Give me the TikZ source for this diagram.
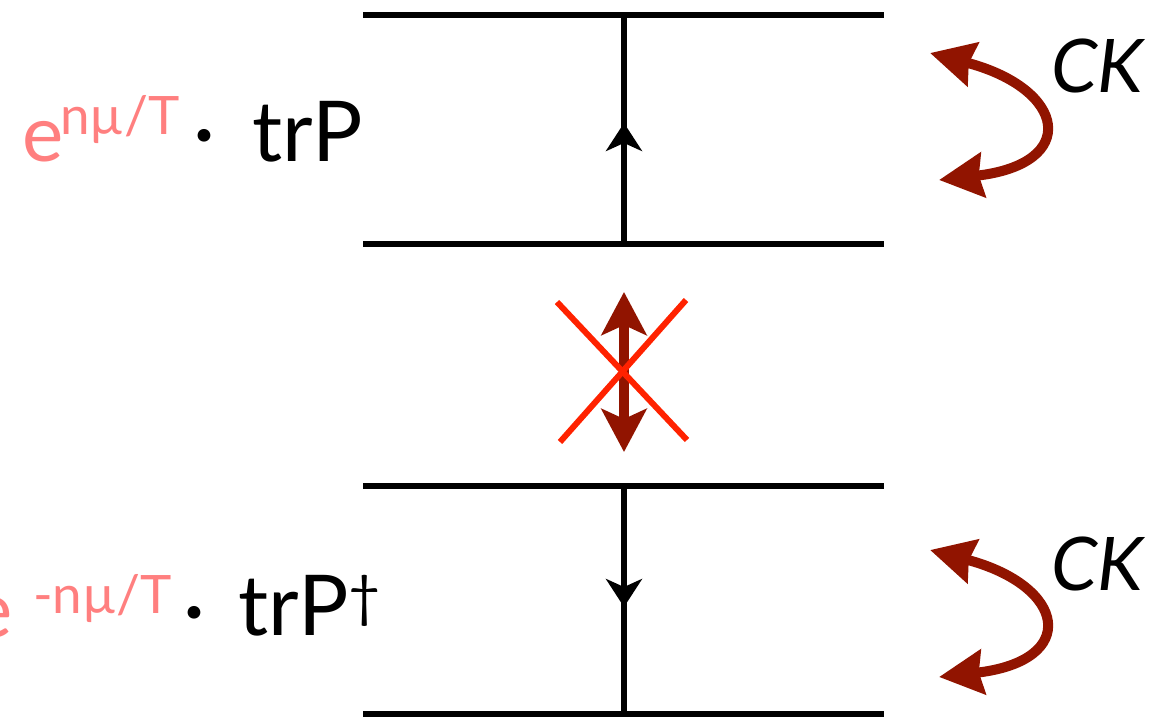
\documentclass[tikz,border=0pt]{standalone}
\usepackage{fontspec}
\setmainfont{Lato}
\usetikzlibrary{arrows.meta}
\definecolor{pinkt}{HTML}{FF7F7F}
\definecolor{darkr}{HTML}{911400}
\definecolor{redx}{HTML}{FF2200}
\begin{document}
\begin{tikzpicture}[x=1pt,y=-1pt,
  rail/.style={line width=6.5pt,black},
  txt/.style={inner sep=0pt,anchor=base west},
  big/.style={font=\fontsize{84}{84}\selectfont},
  ebig/.style={font=\fontsize{78}{78}\selectfont},
  sup/.style={font=\fontsize{53}{53}\selectfont},
  ckfont/.style={font=\fontsize{74}{74}\selectfont\itshape},
  blk/.style={-{Stealth[length=28pt,width=36pt,inset=8pt]}},
  ckarrow/.style={darkr,line width=10pt,{Stealth[length=44pt,width=44pt,inset=4pt]}-{Stealth[length=44pt,width=44pt,inset=4pt]}},
  cross/.style={redx,line width=6pt}]
\useasboundingbox (0,0) rectangle (1161,719);
% rails
\coordinate (aL) at (363,15);  \coordinate (aR) at (884,15);
\coordinate (bL) at (363,244); \coordinate (bR) at (884,244);
\coordinate (cL) at (363,486); \coordinate (cR) at (884,486);
\coordinate (dL) at (363,714); \coordinate (dR) at (884,714);
\draw[rail] (aL) -- (aR);
\draw[rail] (bL) -- (bR);
\draw[rail] (cL) -- (cR);
\draw[rail] (dL) -- (dR);
% vertical lines
\coordinate (v1t) at (624,15);  \coordinate (v1b) at (624,244);
\coordinate (v2t) at (624,486); \coordinate (v2b) at (624,714);
\coordinate (va1) at (624,123); \coordinate (va2) at (624,607);
\draw[rail] (v1b) -- (v1t);
\draw[rail,blk] (v1b) -- (va1);
\draw[rail] (v2t) -- (v2b);
\draw[rail,blk] (v2t) -- (va2);
% middle double arrow and cross
\coordinate (ma) at (624,292); \coordinate (mb) at (624,452);
\draw[darkr,line width=10pt,{Stealth[length=43pt,width=45pt,inset=10pt]}-{Stealth[length=43pt,width=45pt,inset=10pt]}] (ma) -- (mb);
\coordinate (x1a) at (557,302); \coordinate (x1b) at (687,440);
\coordinate (x2a) at (686,300); \coordinate (x2b) at (560,442);
\draw[cross] (x1a) -- (x1b);
\draw[cross] (x2a) -- (x2b);
% CK arrows
\coordinate (k1a) at (930,53);  \coordinate (k1b) at (939,180);
\draw[ckarrow] (k1a) .. controls (1067,89) and (1080,164) .. (k1b);
\coordinate (k2a) at (930,550); \coordinate (k2b) at (939,677);
\draw[ckarrow] (k2a) .. controls (1067,586) and (1080,661) .. (k2b);
\node[txt,ckfont] (ck1) at (1051,93) {CK};
\node[txt,ckfont] (ck2) at (1051,590) {CK};
% upper label
\node[txt,ebig,pinkt] (e1) at (22,162) {e};
\node[txt,sup,pinkt] (s1) at (60,135) {nµ/T};
\node[txt,font=\fontsize{84}{84}\selectfont\bfseries] (d1) at (194,142) {.};
\node[txt,big] (t1) at (252,162) {trP};
% lower label
\node[txt,ebig,pinkt] (e2) at (-29,637) {e};
\node[txt,sup,pinkt] (s2) at (33,613) {-nµ/T};
\node[txt,font=\fontsize{84}{84}\selectfont\bfseries] (d2) at (184,618) {.};
\node[txt,big] (t2) at (238,635) {trP};
\node[inner sep=0pt,anchor=north west,font=\fontsize{56}{56}\selectfont] (g2) at (348,575) {†};
\end{tikzpicture}
\end{document}
